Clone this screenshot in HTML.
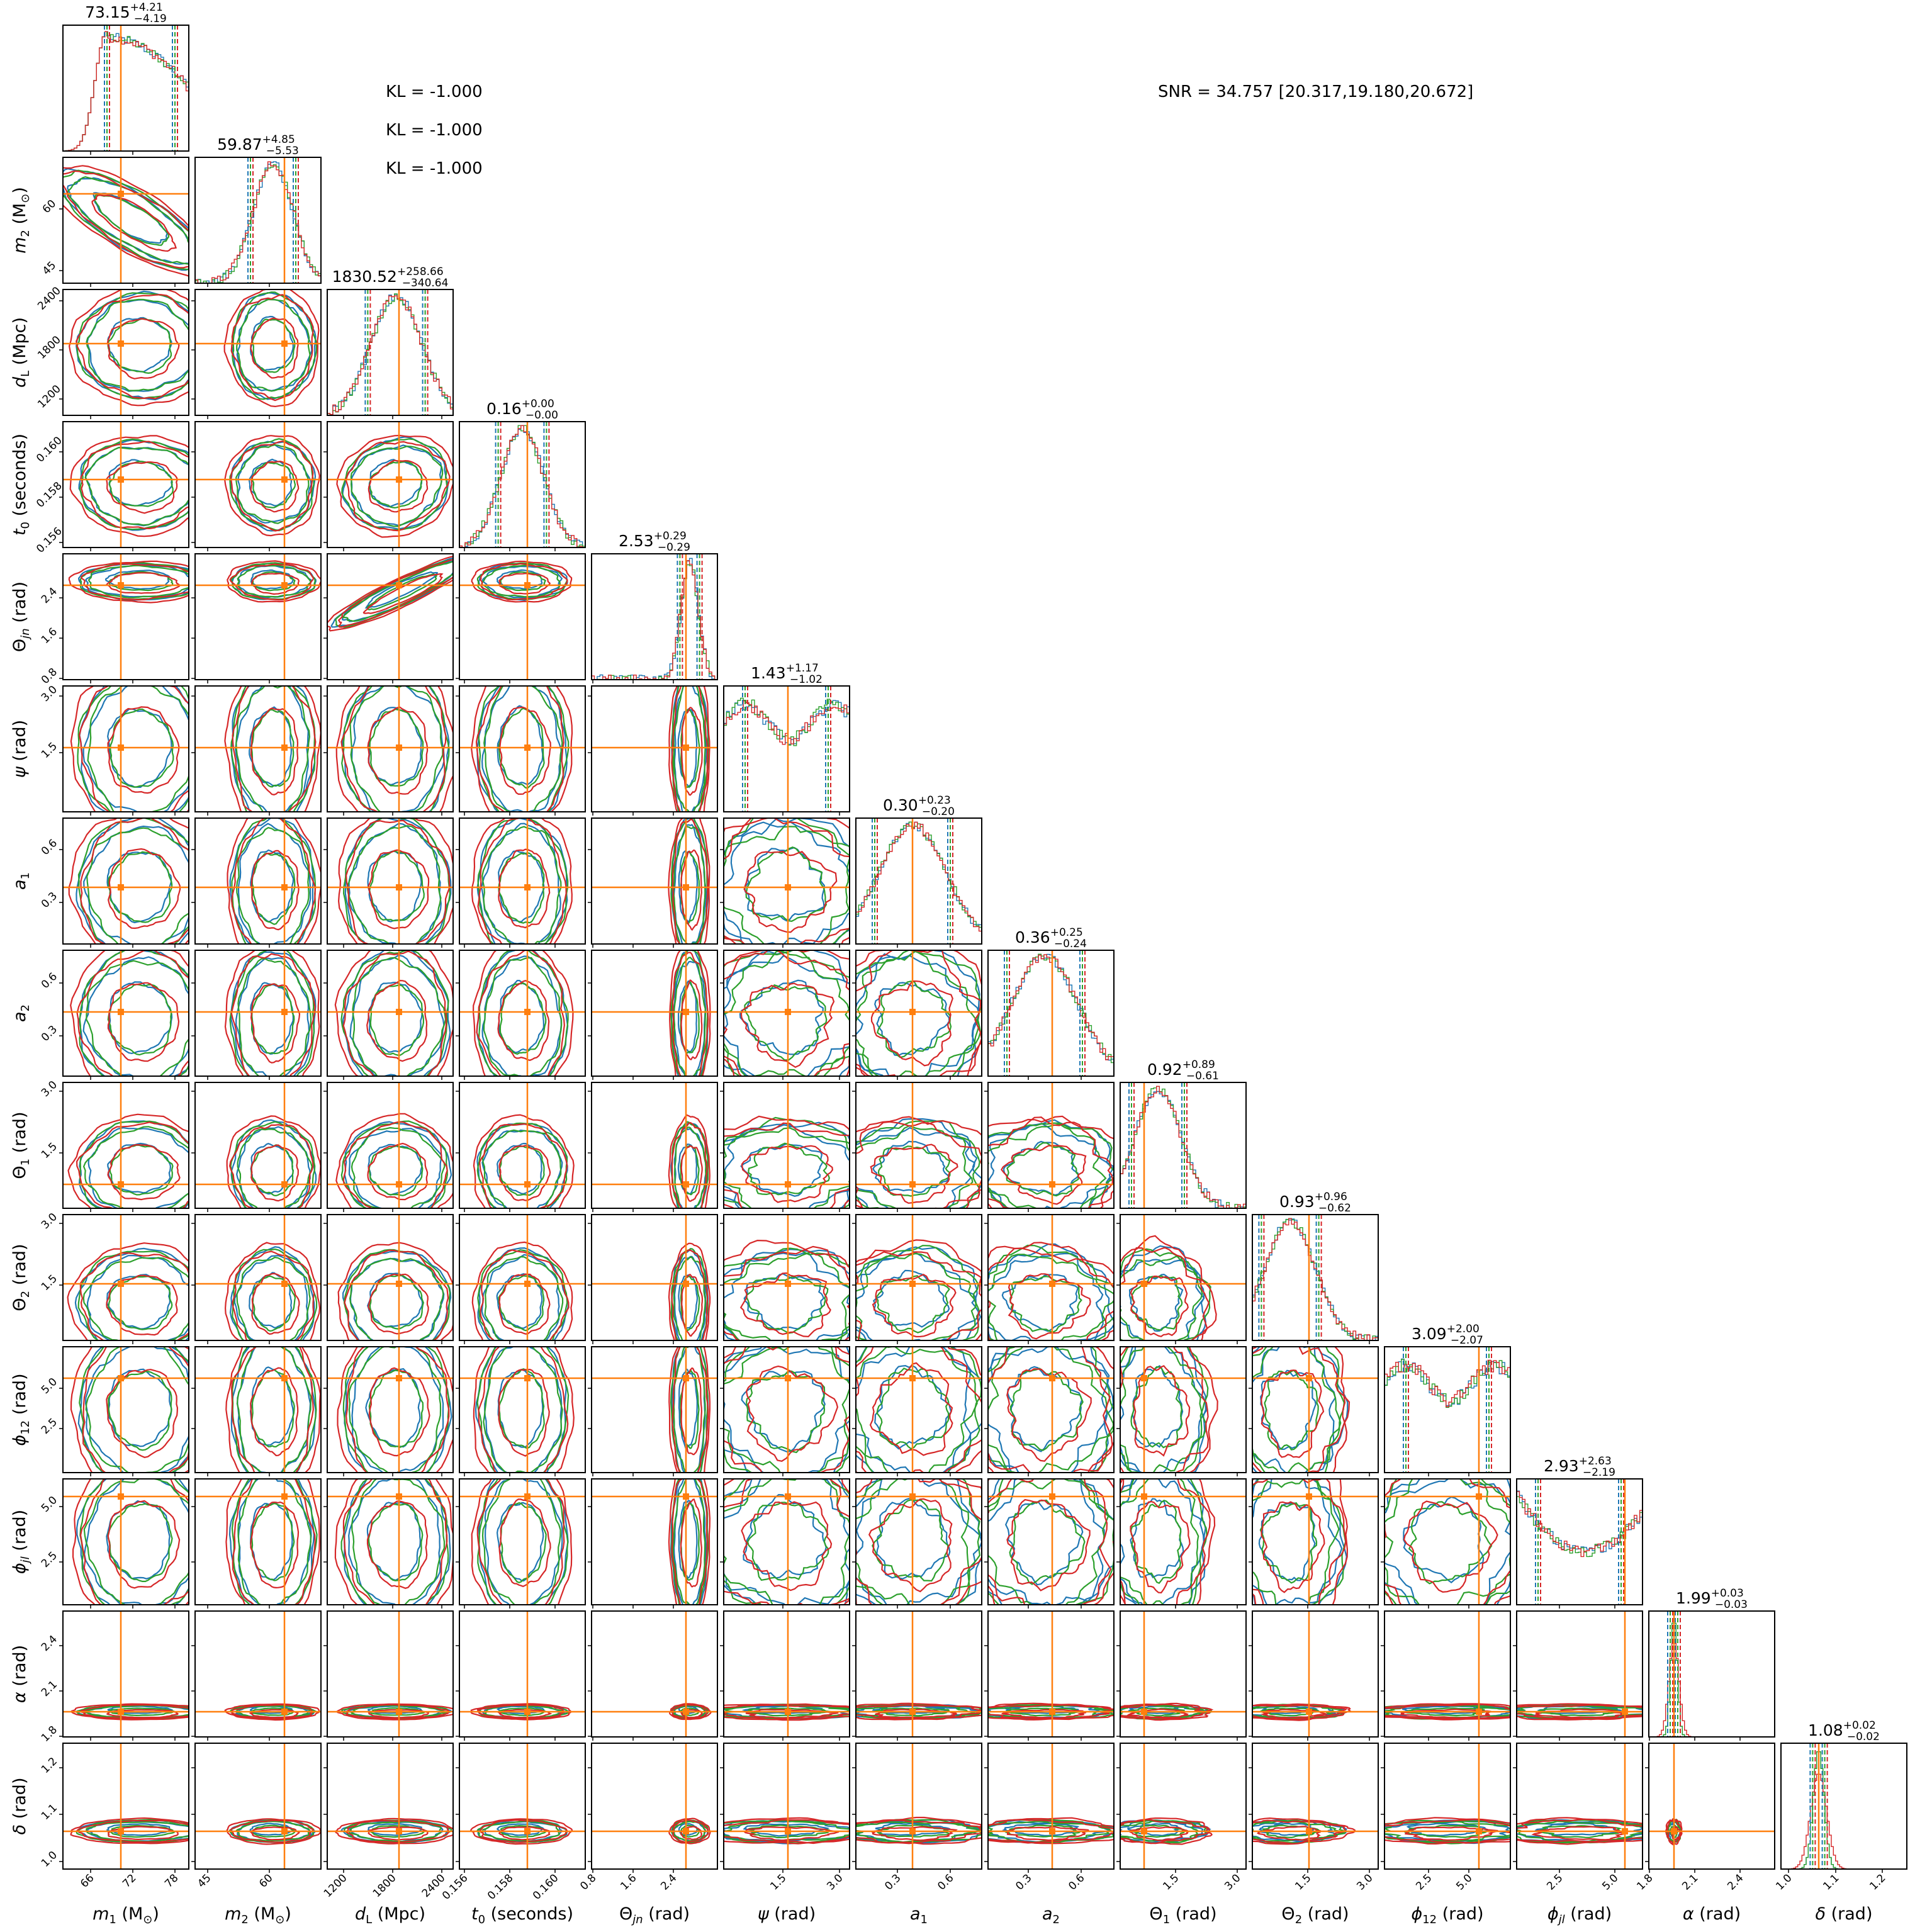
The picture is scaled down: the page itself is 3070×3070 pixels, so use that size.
<!DOCTYPE html>
<html><head><meta charset="utf-8">
<style>
html,body{margin:0;padding:0;background:#fff;}
svg{display:block;font-family:"DejaVu Sans","Liberation Sans",sans-serif;}
</style></head>
<body>
<svg id="s" width="3070" height="3070" viewBox="0 0 3070 3070" xmlns="http://www.w3.org/2000/svg">
<defs><clipPath id="cp"><rect x="0" y="0" width="200" height="200"/></clipPath></defs>
<rect width="3070" height="3070" fill="#fff"/>
<g id="plots"></g>
<g font-size="26" fill="#000">
<text x="613" y="154">KL = -1.000</text>
<text x="613" y="215">KL = -1.000</text>
<text x="613" y="276">KL = -1.000</text>
<text x="1840" y="154">SNR = 34.757 [20.317,19.180,20.672]</text>
</g>
<g font-size="25" text-anchor="middle">
<text x="200" y="28">73.15<tspan font-size="17" dy="-11">+4.21</tspan><tspan font-size="17" dx="-46" dy="18">−4.19</tspan></text>
<text x="410" y="238">59.87<tspan font-size="17" dy="-11">+4.85</tspan><tspan font-size="17" dx="-46" dy="18">−5.53</tspan></text>
<text x="620" y="448">1830.52<tspan font-size="17" dy="-11">+258.66</tspan><tspan font-size="17" dx="-66" dy="18">−340.64</tspan></text>
<text x="830" y="658">0.16<tspan font-size="17" dy="-11">+0.00</tspan><tspan font-size="17" dx="-46" dy="18">−0.00</tspan></text>
<text x="1040" y="868">2.53<tspan font-size="17" dy="-11">+0.29</tspan><tspan font-size="17" dx="-46" dy="18">−0.29</tspan></text>
<text x="1250" y="1078">1.43<tspan font-size="17" dy="-11">+1.17</tspan><tspan font-size="17" dx="-46" dy="18">−1.02</tspan></text>
<text x="1460" y="1288">0.30<tspan font-size="17" dy="-11">+0.23</tspan><tspan font-size="17" dx="-46" dy="18">−0.20</tspan></text>
<text x="1670" y="1498">0.36<tspan font-size="17" dy="-11">+0.25</tspan><tspan font-size="17" dx="-46" dy="18">−0.24</tspan></text>
<text x="1880" y="1708">0.92<tspan font-size="17" dy="-11">+0.89</tspan><tspan font-size="17" dx="-46" dy="18">−0.61</tspan></text>
<text x="2090" y="1918">0.93<tspan font-size="17" dy="-11">+0.96</tspan><tspan font-size="17" dx="-46" dy="18">−0.62</tspan></text>
<text x="2300" y="2128">3.09<tspan font-size="17" dy="-11">+2.00</tspan><tspan font-size="17" dx="-46" dy="18">−2.07</tspan></text>
<text x="2510" y="2338">2.93<tspan font-size="17" dy="-11">+2.63</tspan><tspan font-size="17" dx="-46" dy="18">−2.19</tspan></text>
<text x="2720" y="2548">1.99<tspan font-size="17" dy="-11">+0.03</tspan><tspan font-size="17" dx="-46" dy="18">−0.03</tspan></text>
<text x="2930" y="2758">1.08<tspan font-size="17" dy="-11">+0.02</tspan><tspan font-size="17" dx="-46" dy="18">−0.02</tspan></text>
</g>
<g font-size="27" text-anchor="middle">
<text x="200" y="3050"><tspan font-style="italic">m</tspan><tspan font-size="18" dy="6">1</tspan><tspan dy="-6"> (M</tspan><tspan font-size="18" dy="6">⊙</tspan><tspan dy="-6">)</tspan></text>
<text x="410" y="3050"><tspan font-style="italic">m</tspan><tspan font-size="18" dy="6">2</tspan><tspan dy="-6"> (M</tspan><tspan font-size="18" dy="6">⊙</tspan><tspan dy="-6">)</tspan></text>
<text x="620" y="3050"><tspan font-style="italic">d</tspan><tspan font-size="18" dy="6">L</tspan><tspan dy="-6"> (Mpc)</tspan></text>
<text x="830" y="3050"><tspan font-style="italic">t</tspan><tspan font-size="18" dy="6">0</tspan><tspan dy="-6"> (seconds)</tspan></text>
<text x="1040" y="3050">Θ<tspan font-size="18" dy="6" font-style="italic">jn</tspan><tspan dy="-6"> (rad)</tspan></text>
<text x="1250" y="3050"><tspan font-style="italic">ψ</tspan> (rad)</text>
<text x="1460" y="3050"><tspan font-style="italic">a</tspan><tspan font-size="18" dy="6">1</tspan></text>
<text x="1670" y="3050"><tspan font-style="italic">a</tspan><tspan font-size="18" dy="6">2</tspan></text>
<text x="1880" y="3050">Θ<tspan font-size="18" dy="6">1</tspan><tspan dy="-6"> (rad)</tspan></text>
<text x="2090" y="3050">Θ<tspan font-size="18" dy="6">2</tspan><tspan dy="-6"> (rad)</tspan></text>
<text x="2300" y="3050"><tspan font-style="italic">ϕ</tspan><tspan font-size="18" dy="6">12</tspan><tspan dy="-6"> (rad)</tspan></text>
<text x="2510" y="3050"><tspan font-style="italic">ϕ</tspan><tspan font-size="18" dy="6" font-style="italic">jl</tspan><tspan dy="-6"> (rad)</tspan></text>
<text x="2720" y="3050"><tspan font-style="italic">α</tspan> (rad)</text>
<text x="2930" y="3050"><tspan font-style="italic">δ</tspan> (rad)</text>
</g>
<g font-size="27" text-anchor="middle">
<text transform="translate(40,350) rotate(-90)"><tspan font-style="italic">m</tspan><tspan font-size="18" dy="6">2</tspan><tspan dy="-6"> (M</tspan><tspan font-size="18" dy="6">⊙</tspan><tspan dy="-6">)</tspan></text>
<text transform="translate(40,560) rotate(-90)"><tspan font-style="italic">d</tspan><tspan font-size="18" dy="6">L</tspan><tspan dy="-6"> (Mpc)</tspan></text>
<text transform="translate(40,770) rotate(-90)"><tspan font-style="italic">t</tspan><tspan font-size="18" dy="6">0</tspan><tspan dy="-6"> (seconds)</tspan></text>
<text transform="translate(40,980) rotate(-90)">Θ<tspan font-size="18" dy="6" font-style="italic">jn</tspan><tspan dy="-6"> (rad)</tspan></text>
<text transform="translate(40,1190) rotate(-90)"><tspan font-style="italic">ψ</tspan> (rad)</text>
<text transform="translate(40,1400) rotate(-90)"><tspan font-style="italic">a</tspan><tspan font-size="18" dy="6">1</tspan></text>
<text transform="translate(40,1610) rotate(-90)"><tspan font-style="italic">a</tspan><tspan font-size="18" dy="6">2</tspan></text>
<text transform="translate(40,1820) rotate(-90)">Θ<tspan font-size="18" dy="6">1</tspan><tspan dy="-6"> (rad)</tspan></text>
<text transform="translate(40,2030) rotate(-90)">Θ<tspan font-size="18" dy="6">2</tspan><tspan dy="-6"> (rad)</tspan></text>
<text transform="translate(40,2240) rotate(-90)"><tspan font-style="italic">ϕ</tspan><tspan font-size="18" dy="6">12</tspan><tspan dy="-6"> (rad)</tspan></text>
<text transform="translate(40,2450) rotate(-90)"><tspan font-style="italic">ϕ</tspan><tspan font-size="18" dy="6" font-style="italic">jl</tspan><tspan dy="-6"> (rad)</tspan></text>
<text transform="translate(40,2660) rotate(-90)"><tspan font-style="italic">α</tspan> (rad)</text>
<text transform="translate(40,2870) rotate(-90)"><tspan font-style="italic">δ</tspan> (rad)</text>
</g>
<g id="ticks" font-size="17"></g>
</svg>
<script>
(function(){
var NS="http://www.w3.org/2000/svg";
var B="#1f77b4",O="#ff7f0e",G="#2ca02c",R="#d62728";
// center (fraction of axis), half width, truth
var V=[[0.62,0.45,0.46],[0.62,0.3,0.71],[0.55,0.38,0.57],[0.5,0.32,0.54],[0.78,0.13,0.75],[0.5,0.55,0.51],[0.45,0.5,0.45],[0.45,0.5,0.51],[0.3,0.35,0.19],[0.3,0.38,0.45],[0.5,0.55,0.75],[0.5,0.55,0.86],[0.2,0.05,0.2],[0.3,0.08,0.3]];
var TK=[[[0.22,"66"],[0.555,"72"],[0.89,"78"]],[[0.1,"45"],[0.59,"60"]],[[0.13,"1200"],[0.52,"1800"],[0.91,"2400"]],[[0.04,"0.156"],[0.4,"0.158"],[0.76,"0.160"]],[[0.01,"0.8"],[0.33,"1.6"],[0.65,"2.4"]],[[0.47,"1.5"],[0.92,"3.0"]],[[0.33,"0.3"],[0.75,"0.6"]],[[0.32,"0.3"],[0.74,"0.6"]],[[0.44,"1.5"],[0.93,"3.0"]],[[0.44,"1.5"],[0.93,"3.0"]],[[0.35,"2.5"],[0.67,"5.0"]],[[0.34,"2.5"],[0.78,"5.0"]],[[0.005,"1.8"],[0.365,"2.1"],[0.725,"2.4"]],[[0.06,"1.0"],[0.435,"1.1"],[0.805,"1.2"]]];
var seed=12345;function rnd(){seed=(seed*1103515245+12345)&0x7fffffff;return seed/0x7fffffff;}
var out=[];
function P(x,y){return x.toFixed(1)+","+y.toFixed(1);}
function blob(cx,cy,rx,ry,rot,noise,col){
  var n=70,pts=[],ph=[rnd()*6,rnd()*6,rnd()*6];
  for(var k=0;k<n;k++){var t=k/n*Math.PI*2;
    var m=1+noise*(0.5*Math.sin(3*t+ph[0])+0.3*Math.sin(7*t+ph[1])+0.25*Math.sin(13*t+ph[2])+0.3*(rnd()-0.5));
    var x=Math.cos(t)*rx*m,y=Math.sin(t)*ry*m;
    var c=Math.cos(rot),s=Math.sin(rot);
    pts.push(P(cx+x*c-y*s,cy+x*s+y*c));}
  return '<polygon points="'+pts.join(" ")+'" fill="none" stroke="'+col+'" stroke-width="2.2"/>';
}
for(var i=0;i<14;i++){for(var j=0;j<=i;j++){
  var x0=100+210*j,y0=40+210*i,g='<g transform="translate('+x0+','+y0+')">';
  var inner='';
  if(i==j){
    var v=V[i];var cols=[B,G,R];
    for(var ci=0;ci<3;ci++){var d="M0,200";var nb=i>=12?60:45;
      for(var b=0;b<nb;b++){var xa=b/nb;var xm=(b+0.5)/nb;var h;
        var hw=v[1]*(i>=12&&ci==2?1.5:1);
        if(i==5||i==10) h=0.75+0.15*Math.sin(xm*9)+0.12*(rnd()-0.5);
        else if(i==11) h=0.45+1.6*Math.pow(xm-0.55,2)+0.1*(rnd()-0.5);
        else if(i==0) h=xm<0.35?Math.exp(-Math.pow((xm-0.35)/0.13,2)):0.95-0.5*Math.pow(xm-0.35,2)*2+0.08*(rnd()-0.5);
        else {h=Math.exp(-Math.pow((xm-v[0])/(hw*0.75),2)); if(i<12) h+=0.08*(rnd()-0.5);}
        if(i>=12&&ci==2)h*=0.8;
        h=Math.max(0,Math.min(1.02,h));var y=200-h*190;
        d+=" L"+P(xa*200,y)+" L"+P((b+1)/nb*200,y);}
      d+=" L200,200";
      inner+='<path d="'+d+'" fill="none" stroke="'+cols[ci]+'" stroke-width="1.4"/>';}
    var lo=(v[0]-v[1]*0.6)*200,hi=(v[0]+v[1]*0.6)*200;
    for(var ci=0;ci<3;ci++){var off=(ci-1)*4;
      inner+='<line x1="'+(lo+off)+'" y1="0" x2="'+(lo+off)+'" y2="200" stroke="'+cols[ci]+'" stroke-width="2" stroke-dasharray="7,4"/>';
      inner+='<line x1="'+(hi+off)+'" y1="0" x2="'+(hi+off)+'" y2="200" stroke="'+cols[ci]+'" stroke-width="2" stroke-dasharray="7,4"/>';}
    inner+='<line x1="'+v[2]*200+'" y1="0" x2="'+v[2]*200+'" y2="200" stroke="'+O+'" stroke-width="2.5"/>';
  } else {
    var vx=V[j],vy=V[i];
    var cx=vx[0]*200,cy=(1-vy[0])*200,rx=vx[1]*200,ry=vy[1]*200,rot=0;
    if(j==0&&i==1){rot=0.55;rx=120;ry=40;cx=110;cy=100;}
    if(j==2&&i==4){rot=-0.45;rx=110;ry=18;cx=120;cy=60;}
    if(j==2&&i==3){rot=-0.3;}
    var cols=[B,G,R];
    for(var ci=0;ci<3;ci++){
      var sc=(ci==2)?1.12:1;
      var ns=(i>=5&&j>=5)?0.18:0.08;
      inner+=blob(cx+(ci-1)*3,cy+(ci-1)*3,rx*0.55*sc,ry*0.55*sc,rot,ns,cols[ci]);
      inner+=blob(cx,cy,rx*0.95*sc,ry*0.95*sc,rot,ns,cols[ci]);
      inner+=blob(cx,cy,rx*1.1*sc,ry*1.1*sc,rot,ns*0.7,cols[ci]);
    }
    var tx=vx[2]*200,ty=(1-vy[2])*200;
    inner+='<line x1="'+tx+'" y1="0" x2="'+tx+'" y2="200" stroke="'+O+'" stroke-width="2.5"/>';
    inner+='<line x1="0" y1="'+ty+'" x2="200" y2="'+ty+'" stroke="'+O+'" stroke-width="2.5"/>';
    inner+='<rect x="'+(tx-5)+'" y="'+(ty-5)+'" width="10" height="10" fill="'+O+'"/>';
  }
  g+='<g clip-path="url(#cp)">'+inner+'</g><rect x="0" y="0" width="200" height="200" fill="none" stroke="#000" stroke-width="2"/>';
  // tick marks
  var tk=TK[j];for(var k=0;k<tk.length;k++){var xx=tk[k][0]*200;g+='<line x1="'+xx+'" y1="200" x2="'+xx+'" y2="206" stroke="#000" stroke-width="1.5"/>';}
  if(j>0||i>0){ if(i!=j){var tk2=TK[i];for(var k=0;k<tk2.length;k++){var yy=(1-tk2[k][0])*200;g+='<line x1="-6" y1="'+yy+'" x2="0" y2="'+yy+'" stroke="#000" stroke-width="1.5"/>';}}}
  g+='</g>';out.push(g);
}}
document.getElementById("plots").innerHTML=out.join("");
var t=[];
for(var j=0;j<14;j++){var tk=TK[j];for(var k=0;k<tk.length;k++){var xx=100+210*j+tk[k][0]*200;
  t.push('<text text-anchor="end" transform="translate('+(xx+6)+',2985) rotate(-45)">'+tk[k][1]+'</text>');}}
for(var i=1;i<14;i++){var tk=TK[i];for(var k=0;k<tk.length;k++){var yy=40+210*i+(1-tk[k][0])*200;
  t.push('<text text-anchor="middle" transform="translate(82,'+yy+') rotate(-45)">'+tk[k][1]+'</text>');}}
document.getElementById("ticks").innerHTML=t.join("");
})();
</script>
</body></html>
